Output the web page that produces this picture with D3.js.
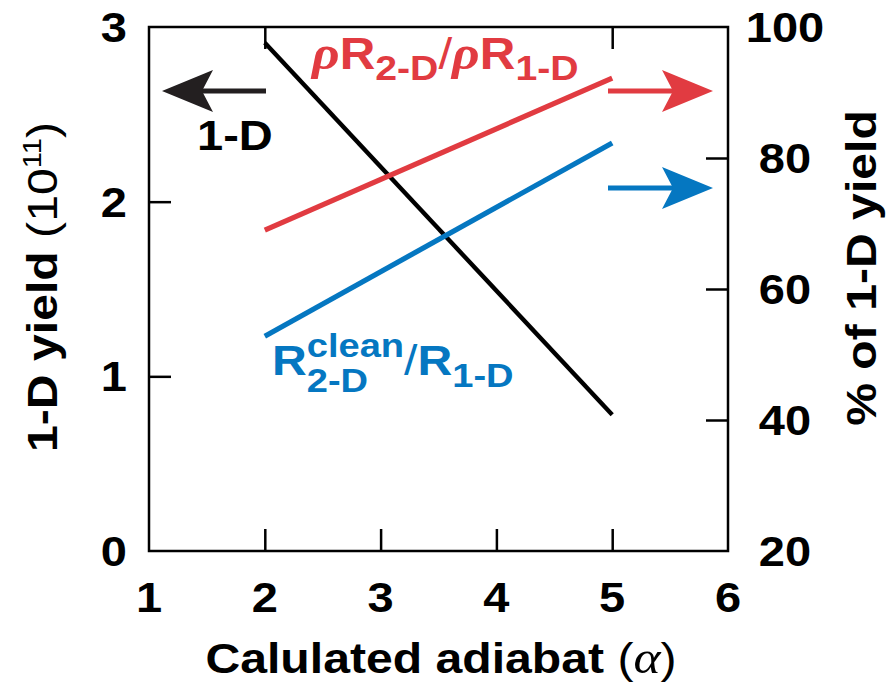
<!DOCTYPE html>
<html>
<head>
<meta charset="utf-8">
<script src="https://cdn.jsdelivr.net/npm/d3@7"></script>
<style>
  body { margin: 0; background: #fff; }
  svg { display: block; }
  text { white-space: pre; }
</style>
</head>
<body>
<svg width="892" height="683"></svg>
<script>
// chart values
const xTicks     = [1, 2, 3, 4, 5, 6]
const leftTicks  = [0, 1, 2, 3]
const rightTicks = [20, 40, 60, 80, 100]
const adiabat    = [2, 5]
const yield1D    = [2.91, 0.78]   // 10^11, left axis
const rhoRatio   = [69.0, 92.2]   // % of 1-D, right axis
const cleanRatio = [52.8, 82.3]   // % of 1-D, right axis

const RED = "#e13b41", BLUE = "#0577c1", INK = "#000"
const SANS = "'Liberation Sans', Arial, Helvetica, sans-serif"
const SERIF = "'Liberation Serif', 'Times New Roman', serif"
const SX = 1.12   // glyphs in the figure are a bit wider than Arial

const svg = d3.select("svg")

const x  = d3.scaleLinear().domain([1, 6]).range([149, 728])
const yL = d3.scaleLinear().domain([0, 3]).range([551, 27])
const yR = d3.scaleLinear().domain([20, 100]).range([551, 27])

// frame
svg.append("rect")
  .attr("x", x(1)).attr("y", yL(3))
  .attr("width", x(6) - x(1)).attr("height", yL(0) - yL(3))
  .attr("fill", "none").attr("stroke", INK).attr("stroke-width", 2.5)

// inward ticks
function ticks(axis, tr, vals) {
  const g = svg.append("g").attr("transform", tr)
    .call(axis.tickValues(vals).tickSizeInner(-22).tickSizeOuter(0).tickFormat(""))
  g.select(".domain").remove()
  g.selectAll("line").attr("stroke", INK).attr("stroke-width", 2.5)
}
ticks(d3.axisBottom(x), `translate(0,${yL(0)})`, [2, 3, 4, 5])
ticks(d3.axisTop(x),    `translate(0,${yL(3)})`, [2, 5])
ticks(d3.axisLeft(yL),  `translate(${x(1)},0)`, [1, 2])
ticks(d3.axisRight(yR), `translate(${x(6)},0)`, [40, 60, 80])

// rich text: pieces laid out left to right, "hold" stacks next piece at same x
function rich(px, py, pieces, opt = {}) {
  const outer = svg.append("g")
    .attr("transform", `translate(${px},${py})` + (opt.rotate ? ` rotate(${opt.rotate})` : "") + ` scale(${SX},1)`)
  const g = outer.append("g")
  let cx = 0, held = null
  pieces.forEach(p => {
    const t = g.append("text")
      .attr("x", cx + (p.dx || 0)).attr("y", p.dy || 0)
      .attr("font-family", p.family || SANS)
      .attr("font-size", p.size || opt.size || 42)
      .attr("font-weight", p.weight || "bold")
      .attr("font-style", p.style || "normal")
      .attr("fill", p.fill || opt.fill || INK)
      .text(p.t)
    const w = t.node().getComputedTextLength() + (p.dx || 0)
    if (p.hold) { held = cx + w }
    else { cx = Math.max(cx + w, held == null ? 0 : held); held = null }
  })
  if (opt.anchor === "middle") g.attr("transform", `translate(${-cx / 2},0)`)
  if (opt.anchor === "end") g.attr("transform", `translate(${-cx},0)`)
  return outer
}

// tick labels
xTicks.forEach(v => rich(x(v), 612, [{ t: v }], { anchor: "middle" }))
leftTicks.forEach(v => rich(127, yL(v) + 15, [{ t: v }], { anchor: "end" }))
rightTicks.forEach(v => rich(785, yR(v) + 15, [{ t: v }], { anchor: "middle" }))

// axis titles
rich(441, 673, [
  { t: "Calulated adiabat " },
  { t: "(", weight: "normal" },
  { t: "α", family: SERIF, style: "italic", weight: "normal", size: 46 },
  { t: ")", weight: "normal" }
], { anchor: "middle", size: 43 })

rich(57, 287, [
  { t: "1-D yield " },
  { t: "(10", weight: "normal" },
  { t: "11", weight: "normal", size: 26, dy: -16 },
  { t: ")", weight: "normal" }
], { anchor: "middle", rotate: -90, size: 43 })

rich(876, 268, [{ t: "% of 1-D yield" }], { anchor: "middle", rotate: -90, size: 43 })

// lines
const line = (ys, sc) => d3.line().x((d, i) => x(adiabat[i])).y(d => sc(d))(ys)
svg.append("path").attr("d", line(yield1D, yL))
  .attr("fill", "none").attr("stroke", INK).attr("stroke-width", 4.4)
svg.append("path").attr("d", line(rhoRatio, yR))
  .attr("fill", "none").attr("stroke", RED).attr("stroke-width", 5.2)
svg.append("path").attr("d", line(cleanRatio, yR))
  .attr("fill", "none").attr("stroke", BLUE).attr("stroke-width", 5.2)

// arrows pointing to each axis
function arrow(x0, x1, y, dir, color) {
  const tip = x1, back = x1 - dir * 51, notch = x1 - dir * 40
  svg.append("line")
    .attr("x1", x0).attr("x2", notch).attr("y1", y).attr("y2", y)
    .attr("stroke", color).attr("stroke-width", 5)
  svg.append("path")
    .attr("d", `M${tip},${y} L${back},${y - 21} L${notch},${y} L${back},${y + 21} Z`)
    .attr("fill", color)
}
arrow(266, 162, 91, -1, "#231f20")
arrow(608, 713, 91, 1, RED)
arrow(608, 713, 188, 1, BLUE)

// line labels
rich(197, 150, [{ t: "1-D" }], { size: 42 })

rich(312, 69, [
  { t: "ρ", family: SERIF, style: "italic", size: 48 },
  { t: "R" },
  { t: "2-D", size: 35, dy: 11 },
  { t: "/", weight: "normal" },
  { t: "ρ", family: SERIF, style: "italic", size: 48 },
  { t: "R" },
  { t: "1-D", size: 35, dy: 11 }
], { size: 44, fill: RED })

rich(272, 375, [
  { t: "R" },
  { t: "clean", size: 34, dy: -18, hold: true },
  { t: "2-D", size: 34, dy: 17 },
  { t: "/", weight: "normal" },
  { t: "R" },
  { t: "1-D", size: 34, dy: 12 }
], { size: 43, fill: BLUE })
</script>
</body>
</html>
